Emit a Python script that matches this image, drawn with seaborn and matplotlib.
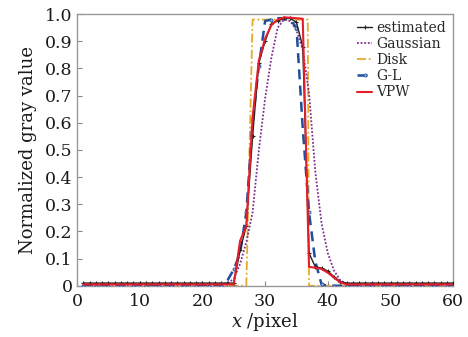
import numpy as np
import pandas as pd
import matplotlib
matplotlib.use("Agg")
import matplotlib.pyplot as plt
import seaborn as sns
from matplotlib.ticker import FuncFormatter

# ---- data ----
x_pix = list(range(1, 61))

est_core = {25: 0.01, 26: 0.13, 27: 0.22, 28: 0.55, 29: 0.82, 30: 0.90, 31: 0.965,
            32: 0.975, 33: 0.985, 34: 0.985, 35: 0.97, 36: 0.88, 37: 0.12, 38: 0.07,
            39: 0.065, 40: 0.054, 41: 0.033, 42: 0.015}
estimated = [est_core.get(i, 0.01) for i in x_pix]

gau_core = {22: 0.005, 23: 0.006, 24: 0.01, 25: 0.025, 26: 0.08, 27: 0.16, 28: 0.27,
            29: 0.50, 30: 0.69, 31: 0.84, 32: 0.95, 33: 0.98, 34: 0.975, 35: 0.94,
            36: 0.87, 37: 0.71, 38: 0.42, 39: 0.23, 40: 0.12, 41: 0.055, 42: 0.02,
            43: 0.008}
gaussian = [gau_core.get(i, 0.005) for i in x_pix]

disk_x = [1, 27, 28, 36.8, 37, 60]
disk_y = [0.0, 0.0, 0.98, 0.98, 0.0, 0.0]

gl_core = {24: 0.02, 25: 0.06, 26: 0.12, 27: 0.27, 28: 0.60, 29: 0.81, 30: 0.975,
           31: 0.98, 32: 0.985, 33: 0.985, 34: 0.98, 35: 0.95, 36: 0.58, 37: 0.27,
           38: 0.09, 39: 0.005}
gl = [gl_core.get(i, 0.0) for i in x_pix]

vpw_core = {26: 0.165, 27: 0.22, 28: 0.62, 29: 0.83, 30: 0.91, 31: 0.96, 32: 0.98,
            33: 0.988, 34: 0.987, 35: 0.985, 36: 0.983, 37: 0.07, 38: 0.066,
            39: 0.062, 40: 0.048, 41: 0.03, 42: 0.012}
vpw = [vpw_core.get(i, 0.005) for i in x_pix]

x_ticks = [0, 10, 20, 30, 40, 50, 60]
y_ticks = [0, 0.1, 0.2, 0.3, 0.4, 0.5, 0.6, 0.7, 0.8, 0.9, 1.0]

# ---- style ----
sns.set_theme(style="white")
plt.rcParams['font.family'] = ['DejaVu Serif']
plt.rcParams['mathtext.fontset'] = 'dejavuserif'

fig = plt.figure(figsize=(4.68, 3.37), dpi=100)
ax = fig.add_axes([0.1645, 0.152, 0.804, 0.806])


def draw(xs, ys, **props):
    n0 = len(ax.lines)
    sns.lineplot(x=xs, y=ys, ax=ax, sort=False, estimator=None, legend=False)
    ln = ax.lines[n0]
    ln.set(**props)
    return ln


l_disk = draw(disk_x, disk_y, color="#E8A928", lw=1.3, linestyle=(0, (5, 1.5, 1, 1.5)),
              marker="None", zorder=2)
l_gau = draw(x_pix, gaussian, color="#7E2F8E", lw=1.3, linestyle=(0, (1, 1)),
             marker="None", zorder=3)
l_gl = draw(x_pix, gl, color="#1F4E9E", lw=1.8, linestyle=(0, (4, 2.5)),
            marker='o', markersize=2.2, markevery=2, markeredgewidth=0.6,
            markerfacecolor="#9fb4dd", markeredgecolor="#1F4E9E", zorder=4)
l_est = draw(x_pix, estimated, color="#222222", lw=1.0, linestyle="-", marker='+',
             markersize=3.2, markeredgewidth=0.8, markeredgecolor="#222222", zorder=5)
l_vpw = draw(x_pix, vpw, color="#E41E2A", lw=1.5, linestyle="-", marker="None", zorder=6)

ax.set_xlim(0, 60)
ax.set_ylim(0, 1.0)
ax.set_xticks(x_ticks)
ax.set_yticks(y_ticks)
ax.yaxis.set_major_formatter(FuncFormatter(lambda v, p: "0" if abs(v) < 1e-9 else f"{v:.1f}"))
ax.tick_params(axis='both', direction='in', length=3.5, width=0.8, color="#888888",
               labelsize=12.5, labelcolor="#1a1a1a", top=False, right=False,
               bottom=True, left=True)
ax.tick_params(axis='x', pad=5)
ax.tick_params(axis='y', pad=3)
for s in ax.spines.values():
    s.set_color("#999999")
    s.set_linewidth(1.0)

ax.set_xlabel(r"$x$ /pixel", fontsize=13, color="#1a1a1a", labelpad=1)
ax.set_ylabel("Normalized gray value", fontsize=13, color="#1a1a1a", labelpad=6)

ax.legend([l_est, l_gau, l_disk, l_gl, l_vpw],
          ["estimated", "Gaussian", "Disk", "G-L", "VPW"],
          loc="upper right", bbox_to_anchor=(1.0, 1.0),
          frameon=False, fontsize=10, handlelength=1.1, handletextpad=0.3,
          labelspacing=0.15, borderaxespad=0.3, borderpad=0.2)

fig.savefig("out.png", dpi=100)
